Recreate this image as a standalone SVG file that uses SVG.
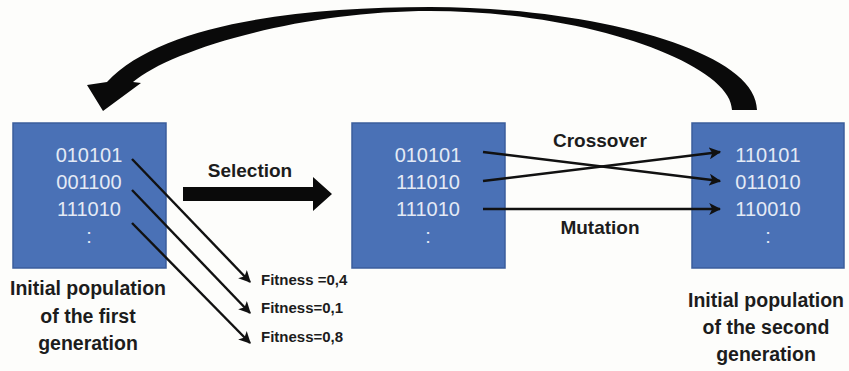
<svg xmlns="http://www.w3.org/2000/svg" width="849" height="371" viewBox="0 0 849 371">
<style>
.box{fill:#4a71b6;stroke:#3b5d9c;stroke-width:1.5}
.bits{font-family:"Liberation Sans",Arial,sans-serif;font-size:20px;fill:#e4eaf5;text-anchor:middle}
.lbl{font-family:"Liberation Sans",Arial,sans-serif;font-weight:bold;font-size:19px;fill:#1c1c1c;text-anchor:middle}
.cap{font-family:"Liberation Sans",Arial,sans-serif;font-weight:bold;font-size:19.5px;fill:#1c1c1c;text-anchor:middle}
.fit{font-family:"Liberation Sans",Arial,sans-serif;font-weight:bold;font-size:15px;fill:#1c1c1c}
.ln{fill:none;stroke:#111;stroke-width:2.4;marker-end:url(#ah)}
</style>
<defs>
<marker id="ah" viewBox="0 0 10 10" refX="9" refY="5" markerWidth="5" markerHeight="5" orient="auto" markerUnits="strokeWidth">
<path d="M0,0 L10,5 L0,10 L2.5,5 Z" fill="#111"/>
</marker>
</defs>
<rect width="849" height="371" fill="#fdfdfb"/>

<g id="gen1">
<rect class="box" x="13" y="123" width="153" height="145"/>
<text class="bits" x="89" y="162">010101</text>
<text class="bits" x="89" y="189">001100</text>
<text class="bits" x="89" y="216">111010</text>
<text class="bits" x="89" y="243">:</text>
<text class="cap" x="88" y="295">Initial population</text>
<text class="cap" x="88" y="323">of the first</text>
<text class="cap" x="88" y="350">generation</text>
</g>

<g id="selected">
<rect class="box" x="352" y="123" width="153" height="145"/>
<text class="bits" x="428" y="162">010101</text>
<text class="bits" x="428" y="189">111010</text>
<text class="bits" x="428" y="216">111010</text>
<text class="bits" x="428" y="243">:</text>
</g>

<g id="gen2">
<rect class="box" x="692" y="123" width="152" height="145"/>
<text class="bits" x="768" y="162">110101</text>
<text class="bits" x="768" y="189">011010</text>
<text class="bits" x="768" y="216">110010</text>
<text class="bits" x="768" y="243">:</text>
<text class="cap" x="766" y="307">Initial population</text>
<text class="cap" x="766" y="334">of the second</text>
<text class="cap" x="766" y="361">generation</text>
</g>

<g id="fitness">
<text class="fit" x="261" y="285">Fitness =0,4</text>
<text class="fit" x="261" y="313">Fitness=0,1</text>
<text class="fit" x="261" y="342">Fitness=0,8</text>
</g>

<g id="connectors">
<path d="M757,110 C757,50 590,7 430,7 C295,7 160,25 107,82 L87,85 L103,111 L141,83 L133,82 C170,50 300,11 430,11 C590,11 732,65 732,110 Z" fill="#0a0a0a"/>
<path d="M183,187 L313,187 L313,177 L332,194 L313,211 L313,201 L183,201 Z" fill="#0a0a0a"/>
<text class="lbl" x="250" y="177">Selection</text>
<line class="ln" x1="132" y1="159" x2="250" y2="282"/>
<line class="ln" x1="132" y1="190" x2="250" y2="313"/>
<line class="ln" x1="132" y1="223" x2="250" y2="343"/>
<line class="ln" x1="483" y1="152" x2="720" y2="181"/>
<line class="ln" x1="483" y1="181" x2="720" y2="152"/>
<line class="ln" x1="483" y1="209" x2="720" y2="209"/>
<text class="lbl" x="600" y="147">Crossover</text>
<text class="lbl" x="600" y="234">Mutation</text>
</g>
</svg>
